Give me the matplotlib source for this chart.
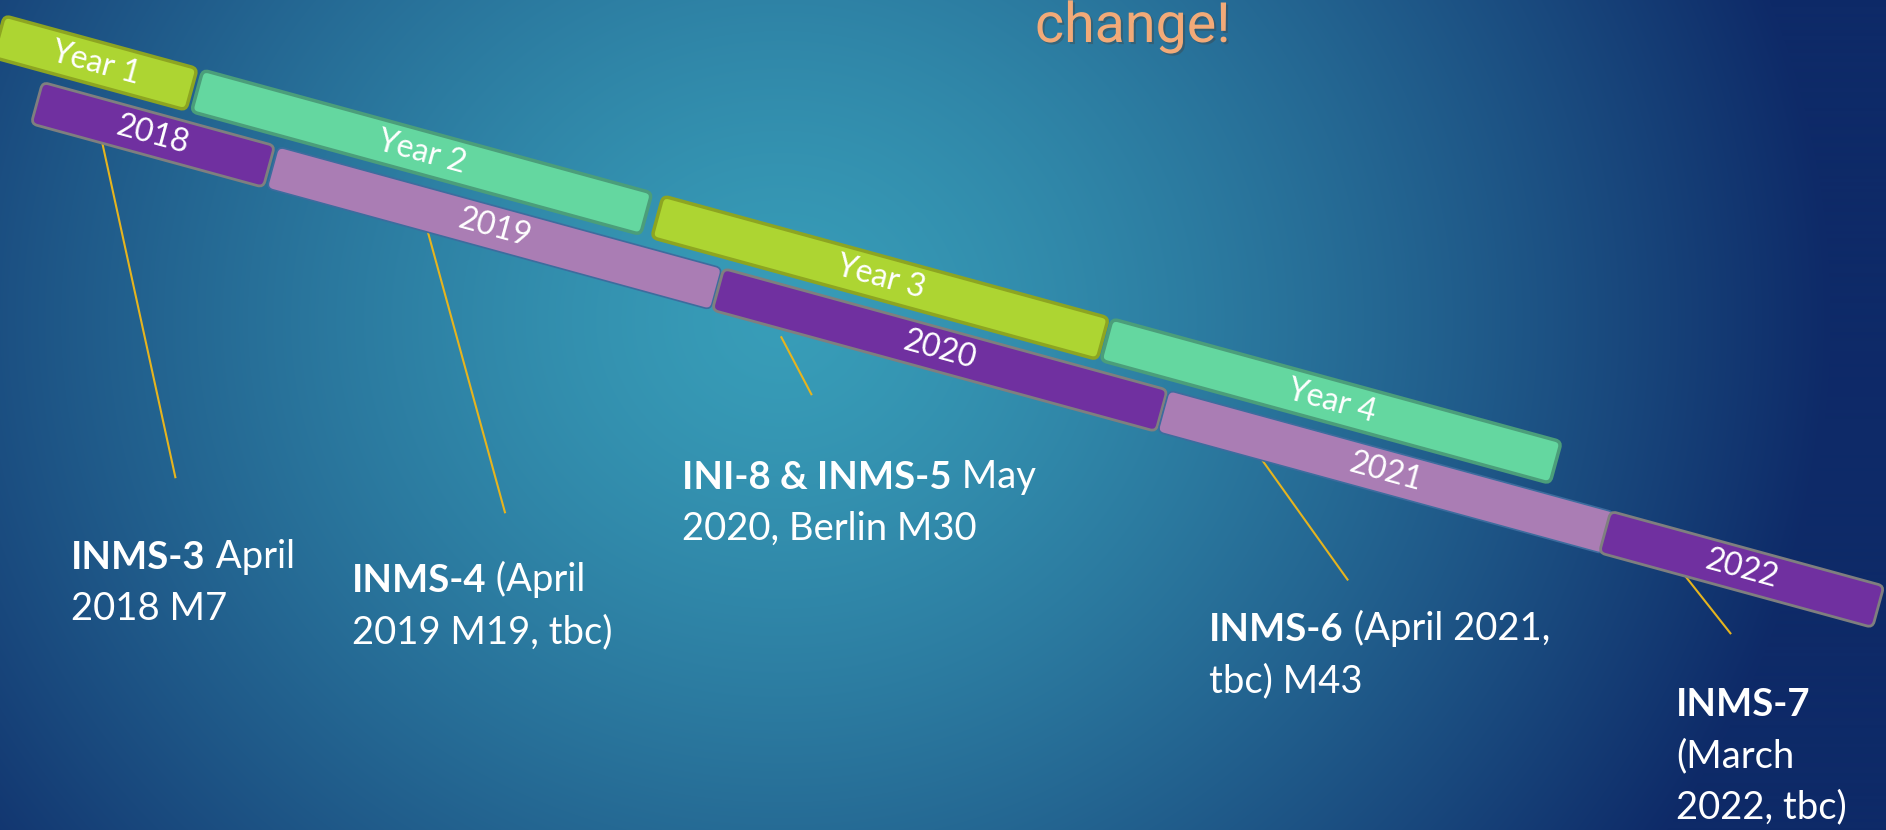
import numpy as np
import matplotlib
matplotlib.use("Agg")
import matplotlib.pyplot as plt
from matplotlib.patches import FancyBboxPatch
from matplotlib.transforms import Affine2D
import matplotlib.patheffects as pe

plt.rcParams["font.family"] = ["Lato", "DejaVu Sans"]

# project years, positions in project months along the timeline
year_labels = ["Year 1", "Year 2", "Year 3", "Year 4"]
year_start = [7.7, 13.0, 25.3, 37.3]
year_end = [12.85, 25.0, 37.2, 49.3]

# calendar years
cal_labels = ["2018", "2019", "2020", "2021", "2022"]
cal_start = [9.1, 15.4, 27.3, 39.2, 51.0]
cal_end = [15.3, 27.25, 39.15, 51.1, 58.3]

# meetings: where the leader touches the calendar bar
meet_bold = ["INMS-3", "INMS-4", "INI-8 & INMS-5", "INMS-6", "INMS-7"]
meet_first = [" April", " (April", " May", " (April 2021,", ""]
meet_more = [["2018 M7"], ["2019 M19, tbc)"], ["2020, Berlin M30"],
             ["tbc) M43"], ["(March", "2022, tbc)"]]
meet_pos = [11.0, 19.7, 29.2, 42.0, 53.3]

# styling / layout
year_fill = ["#ADD532", "#64D7A0", "#ADD532", "#64D7A0"]
year_edge = ["#8DA521", "#4B9E7A", "#8DA521", "#4B9E7A"]
cal_fill = ["#7030A0", "#AA7DB4", "#7030A0", "#AA7DB4", "#7030A0"]
cal_edge = ["#7F7F7F", "#3D6C9E", "#7F7F7F", "#3D6C9E", "#7F7F7F"]
lead_gap = [0, 0, 8, 0, 0]
lead_vec = [(73, 334), (77, 280), (30, 57), (85, 119), (45, 57)]
text_xy = [(71, 569), (352, 592), (682, 489), (1209, 641), (1676, 716)]
line_step = 51

W, H = 1886, 830
theta = 15.3
px_month = 38.8
m0 = 13.0
origin = (202, 73)
year_row = (-3, 43)
cal_row = (51, 43)

fig = plt.figure(figsize=(W / 100, H / 100), dpi=100)
ax = fig.add_axes([0, 0, 1, 1])
ax.axis("off")

# slide background
yy, xx = np.mgrid[0:H, 0:W]
r = np.sqrt(((xx - 780) / 1050) ** 2 + ((yy - 320) / 950) ** 2)
t = np.clip(r, 0, 1)[..., None] ** 1.35
c0 = np.array([56, 157, 184]) / 255
c1 = np.array([14, 42, 104]) / 255
ax.imshow(c0 * (1 - t) + c1 * t, extent=[0, W, H, 0], aspect="auto", zorder=0)
ax.set_xlim(0, W)
ax.set_ylim(H, 0)

rot = Affine2D().rotate_deg(theta).translate(*origin)


def u_of(m):
    return (m - m0) * px_month


def bar(m_a, m_b, row, label, fill, edge, lw):
    u0, u1 = u_of(m_a), u_of(m_b)
    v0, h = row
    p = FancyBboxPatch((u0, v0), u1 - u0, h,
                       boxstyle="round,pad=0,rounding_size=6",
                       fc=fill, ec=edge, lw=lw,
                       transform=rot + ax.transData, zorder=2)
    ax.add_patch(p)
    cx, cy = rot.transform(((u0 + u1) / 2, v0 + h / 2))
    ax.text(cx, cy, label, rotation=-theta, rotation_mode="anchor",
            ha="center", va="center", color="white", fontsize=23, zorder=3)


for i in range(len(year_labels)):
    bar(year_start[i], year_end[i], year_row, year_labels[i],
        year_fill[i], year_edge[i], 2.5)

for i in range(len(cal_labels)):
    bar(cal_start[i], cal_end[i], cal_row, cal_labels[i],
        cal_fill[i], cal_edge[i], 2.0 if i % 2 == 0 else 1.2)

# leaders and meeting labels
for i in range(len(meet_bold)):
    x0, y0 = rot.transform((u_of(meet_pos[i]),
                            cal_row[0] + cal_row[1] + lead_gap[i]))
    dx, dy = lead_vec[i]
    ax.plot([x0, x0 + dx], [y0, y0 + dy], color="#E6B41E", lw=1.5, zorder=1)

    tx, ty = text_xy[i]
    b = ax.text(tx, ty, meet_bold[i], fontsize=27.5, fontweight="bold",
                color="white", va="baseline", ha="left", zorder=4)
    if meet_first[i]:
        ax.annotate(meet_first[i], xy=(1, 0), xycoords=b, va="bottom",
                    ha="left", fontsize=27.5, color="white", zorder=4)
    for k, line in enumerate(meet_more[i]):
        ax.text(tx, ty + (k + 1) * line_step, line, fontsize=27.5,
                color="white", va="baseline", ha="left", zorder=4)

ax.text(1035, 42, "change!", fontsize=40, color="#F2AA78",
        family=["Roboto", "Lato", "DejaVu Sans"], fontweight="normal",
        va="baseline", ha="left", zorder=4,
        path_effects=[pe.SimplePatchShadow(offset=(1.5, -1.5), alpha=0.3),
                      pe.Normal()])

fig.savefig("out.png", dpi=100)
